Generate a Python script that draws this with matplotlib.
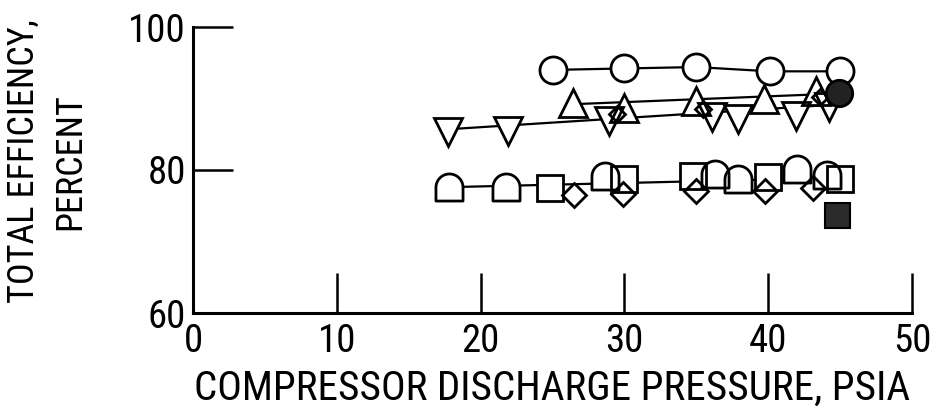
import numpy as np
import matplotlib
matplotlib.use('Agg')
import matplotlib.pyplot as plt
from matplotlib import font_manager

# --- data (psia, percent) ---
circ_x = [25.0, 30.0, 35.0, 40.1, 45.0]
circ_y = [94.0, 94.2, 94.4, 93.8, 93.8]

up_x = [26.4, 30.0, 35.0, 39.7, 43.3]
up_y = [89.4, 88.7, 89.6, 89.9, 91.0]

down_x = [17.75, 21.9, 28.95, 36.1, 37.9, 41.9, 44.2]
down_y = [85.3, 85.4, 86.8, 87.4, 87.2, 87.6, 88.8]

smalld_x = [29.5, 35.5, 43.6]
smalld_y = [87.9, 88.5, 90.2]

filled_circ_x = [44.9]
filled_circ_y = [90.7]

tomb_x = [17.8, 21.8, 28.65, 36.3, 37.9, 42.0, 44.1]
tomb_y = [77.6, 77.6, 79.1, 79.4, 78.8, 80.2, 79.3]

sq_x = [24.8, 30.0, 34.8, 40.0, 45.0]
sq_y = [77.5, 78.8, 79.1, 79.0, 78.7]

diam_x = [26.5, 29.9, 35.0, 39.8, 43.1]
diam_y = [76.5, 76.6, 77.1, 77.1, 77.5]

filled_sq_x = [44.8]
filled_sq_y = [73.7]

# faired lines
upper_line_x = [26.4, 44.9]
upper_line_y = [89.2, 90.7]
lower_line_x = [17.75, 44.3]
lower_line_y = [85.7, 89.1]
bottom_line_x = [17.8, 45.0]
bottom_line_y = [77.6, 78.9]

xticks = [0, 10, 20, 30, 40, 50]
yticks = [60, 80, 100]

# look for a narrow font, the original lettering is condensed
narrow = None
names = sorted(set(f.name for f in font_manager.fontManager.ttflist))
for want in ['Liberation Sans Narrow', 'DejaVu Sans Condensed', 'Roboto Condensed',
             'Open Sans Condensed', 'Noto Sans Condensed']:
    if want in names:
        narrow = want
        break
if narrow is None:
    for n in names:
        if 'Narrow' in n or 'Condensed' in n:
            narrow = n
            break
if narrow is None:
    narrow = 'Roboto' if 'Roboto' in names else 'DejaVu Sans'
plt.rcParams['font.family'] = [narrow, 'DejaVu Sans']

fig = plt.figure(figsize=(9.36, 4.07), dpi=100)
ax = fig.add_axes([193/936, 1-313/407, 719/936, 286/407])
ax.set_xlim(0, 50)
ax.set_ylim(60, 100)

# tombstone marker (semicircle on top of a square base)
t = np.linspace(0, np.pi, 30)
tomb = [(np.cos(a), np.sin(a)) for a in t] + [(-1, -1), (1, -1), (1, 0)]

k = 'black'
lw_line = 1.6
mew = 2.0

ax.plot(circ_x, circ_y, color=k, lw=lw_line, zorder=1)
ax.plot(upper_line_x, upper_line_y, color=k, lw=lw_line, zorder=1)
ax.plot(lower_line_x, lower_line_y, color=k, lw=lw_line, zorder=1)
ax.plot(bottom_line_x, bottom_line_y, color=k, lw=lw_line, zorder=1)

series = [
    (circ_x, circ_y, 'o', 19.5),
    (up_x, up_y, '^', 19.5),
    (down_x, down_y, 'v', 19.5),
    (smalld_x, smalld_y, 'D', 8),
    (tomb_x, tomb_y, tomb, 19.5),
    (sq_x, sq_y, 's', 19),
    (diam_x, diam_y, 'D', 12.5),
]
# white masks hide the lines inside the symbols, outlines drawn on top
for xs, ys, m, ms in series:
    ax.plot(xs, ys, ls='none', marker=m, ms=ms, mfc='white', mec='none', zorder=2)
for xs, ys, m, ms in series:
    ax.plot(xs, ys, ls='none', marker=m, ms=ms, mfc='none', mec=k, mew=mew, zorder=3)

ax.plot(filled_circ_x, filled_circ_y, ls='none', marker='o', ms=19, mfc='#222222', mec=k, mew=mew, zorder=4)
ax.plot(filled_sq_x, filled_sq_y, ls='none', marker='s', ms=18, mfc='#2a2a2a', mec=k, mew=1.5, zorder=4)

for s in ['top', 'right']:
    ax.spines[s].set_visible(False)
for s in ['left', 'bottom']:
    ax.spines[s].set_linewidth(2.2)

ax.set_xticks(xticks)
ax.set_yticks(yticks)
ax.tick_params(direction='in', length=29, width=1.8, labelsize=28)
ax.tick_params(axis='x', pad=7)
ax.tick_params(axis='y', pad=5)

ax.set_xlabel('COMPRESSOR DISCHARGE PRESSURE, PSIA', fontsize=30)
ax.xaxis.set_label_coords(0.5, -0.262)
ax.xaxis.label.set_va('center')
ax.set_ylabel('TOTAL EFFICIENCY,\nPERCENT', fontsize=26, linespacing=1.4)
ax.yaxis.set_label_coords(-0.203, 0.53)
ax.yaxis.label.set_va('center')

# scale the x label to the width measured on the original
fig.canvas.draw()
r = fig.canvas.get_renderer()
w = ax.xaxis.label.get_window_extent(r).width
ax.xaxis.label.set_fontsize(30 * 716 / w)

fig.savefig('out.png', dpi=100)
